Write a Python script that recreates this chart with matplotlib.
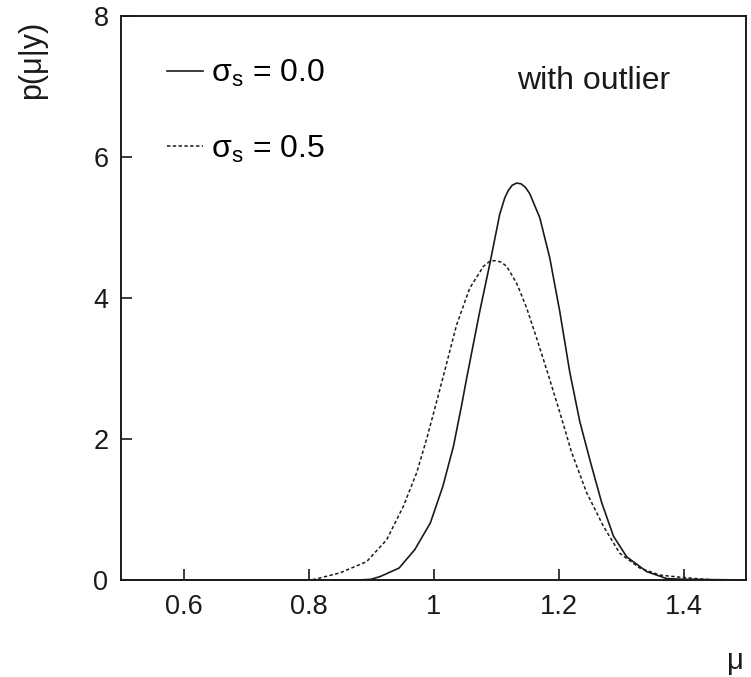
import matplotlib
matplotlib.use("Agg")
import matplotlib.pyplot as plt

# posterior of mu
mu_s00 = [0.50, 0.80, 0.88, 0.90, 0.915, 0.945, 0.97, 0.995, 1.015, 1.032,
          1.045, 1.053, 1.074, 1.090, 1.106, 1.114, 1.120, 1.126, 1.133,
          1.140, 1.147, 1.154, 1.170, 1.186, 1.202, 1.218, 1.234, 1.250,
          1.269, 1.288, 1.309, 1.341, 1.373, 1.40, 1.50]
p_s00 = [0.00, 0.00, 0.00, 0.01, 0.05, 0.17, 0.43, 0.81, 1.33, 1.90,
         2.48, 2.86, 3.81, 4.48, 5.19, 5.42, 5.53, 5.60, 5.63,
         5.62, 5.57, 5.48, 5.14, 4.57, 3.81, 2.95, 2.25, 1.71,
         1.10, 0.62, 0.33, 0.12, 0.02, 0.01, 0.00]

mu_s05 = [0.50, 0.80, 0.81, 0.85, 0.893, 0.925, 0.952, 0.973, 0.989, 1.002,
          1.013, 1.037, 1.058, 1.080, 1.090, 1.098, 1.108, 1.117, 1.133,
          1.149, 1.165, 1.184, 1.202, 1.221, 1.245, 1.272, 1.298, 1.330,
          1.362, 1.394, 1.42, 1.45, 1.50]
p_s05 = [0.00, 0.00, 0.01, 0.10, 0.26, 0.57, 1.05, 1.52, 2.00, 2.43,
         2.80, 3.62, 4.14, 4.45, 4.52, 4.53, 4.51, 4.45, 4.21,
         3.86, 3.43, 2.90, 2.38, 1.81, 1.24, 0.76, 0.38, 0.17,
         0.07, 0.04, 0.02, 0.00, 0.00]

labels = ['σ$_\\mathregular{s}$ = 0.0', 'σ$_\\mathregular{s}$ = 0.5']
xticks = [0.6, 0.8, 1.0, 1.2, 1.4]
xticklabels = ['0.6', '0.8', '1', '1.2', '1.4']
yticks = [0, 2, 4, 6, 8]

plt.rcParams['font.family'] = ['Liberation Sans', 'DejaVu Sans']

fig = plt.figure(figsize=(7.51, 6.77), dpi=100)
ax = fig.add_axes([121 / 751, 1 - 580 / 677, 625 / 751, 564 / 677])

ink = '#1a1a1a'
ax.plot(mu_s00, p_s00, color=ink, lw=1.2, label=labels[0])
ax.plot(mu_s05, p_s05, color=ink, lw=1.1, ls=(0, (2.2, 1.6)), label=labels[1])

ax.set_xlim(0.5, 1.5)
ax.set_ylim(0, 8)
ax.set_xticks(xticks)
ax.set_xticklabels(xticklabels)
ax.set_yticks(yticks)
ax.tick_params(direction='in', length=8, width=1.2, labelsize=19.5, colors=ink,
               top=False, right=False)
ax.tick_params(axis='x', pad=10)
ax.tick_params(axis='y', pad=9)
for sp in ax.spines.values():
    sp.set_linewidth(1.4)
    sp.set_color(ink)

ax.legend(loc='upper left', bbox_to_anchor=(0.0736, 0.926), frameon=False,
          fontsize=23, handlelength=1.13, handletextpad=0.25, labelspacing=1.38,
          borderpad=0, borderaxespad=0)

ax.text(1.256, 7.08, 'with outlier', fontsize=23, ha='center', va='center', color=ink)

fig.text(32 / 751, 1 - 60 / 677, 'p(μ|y)', rotation=90, fontsize=22,
         ha='center', va='center', color=ink)
fig.text(735 / 751, 1 - 661 / 677, 'μ', fontsize=21, ha='center', va='center', color=ink)

fig.savefig('out.png', dpi=100)
